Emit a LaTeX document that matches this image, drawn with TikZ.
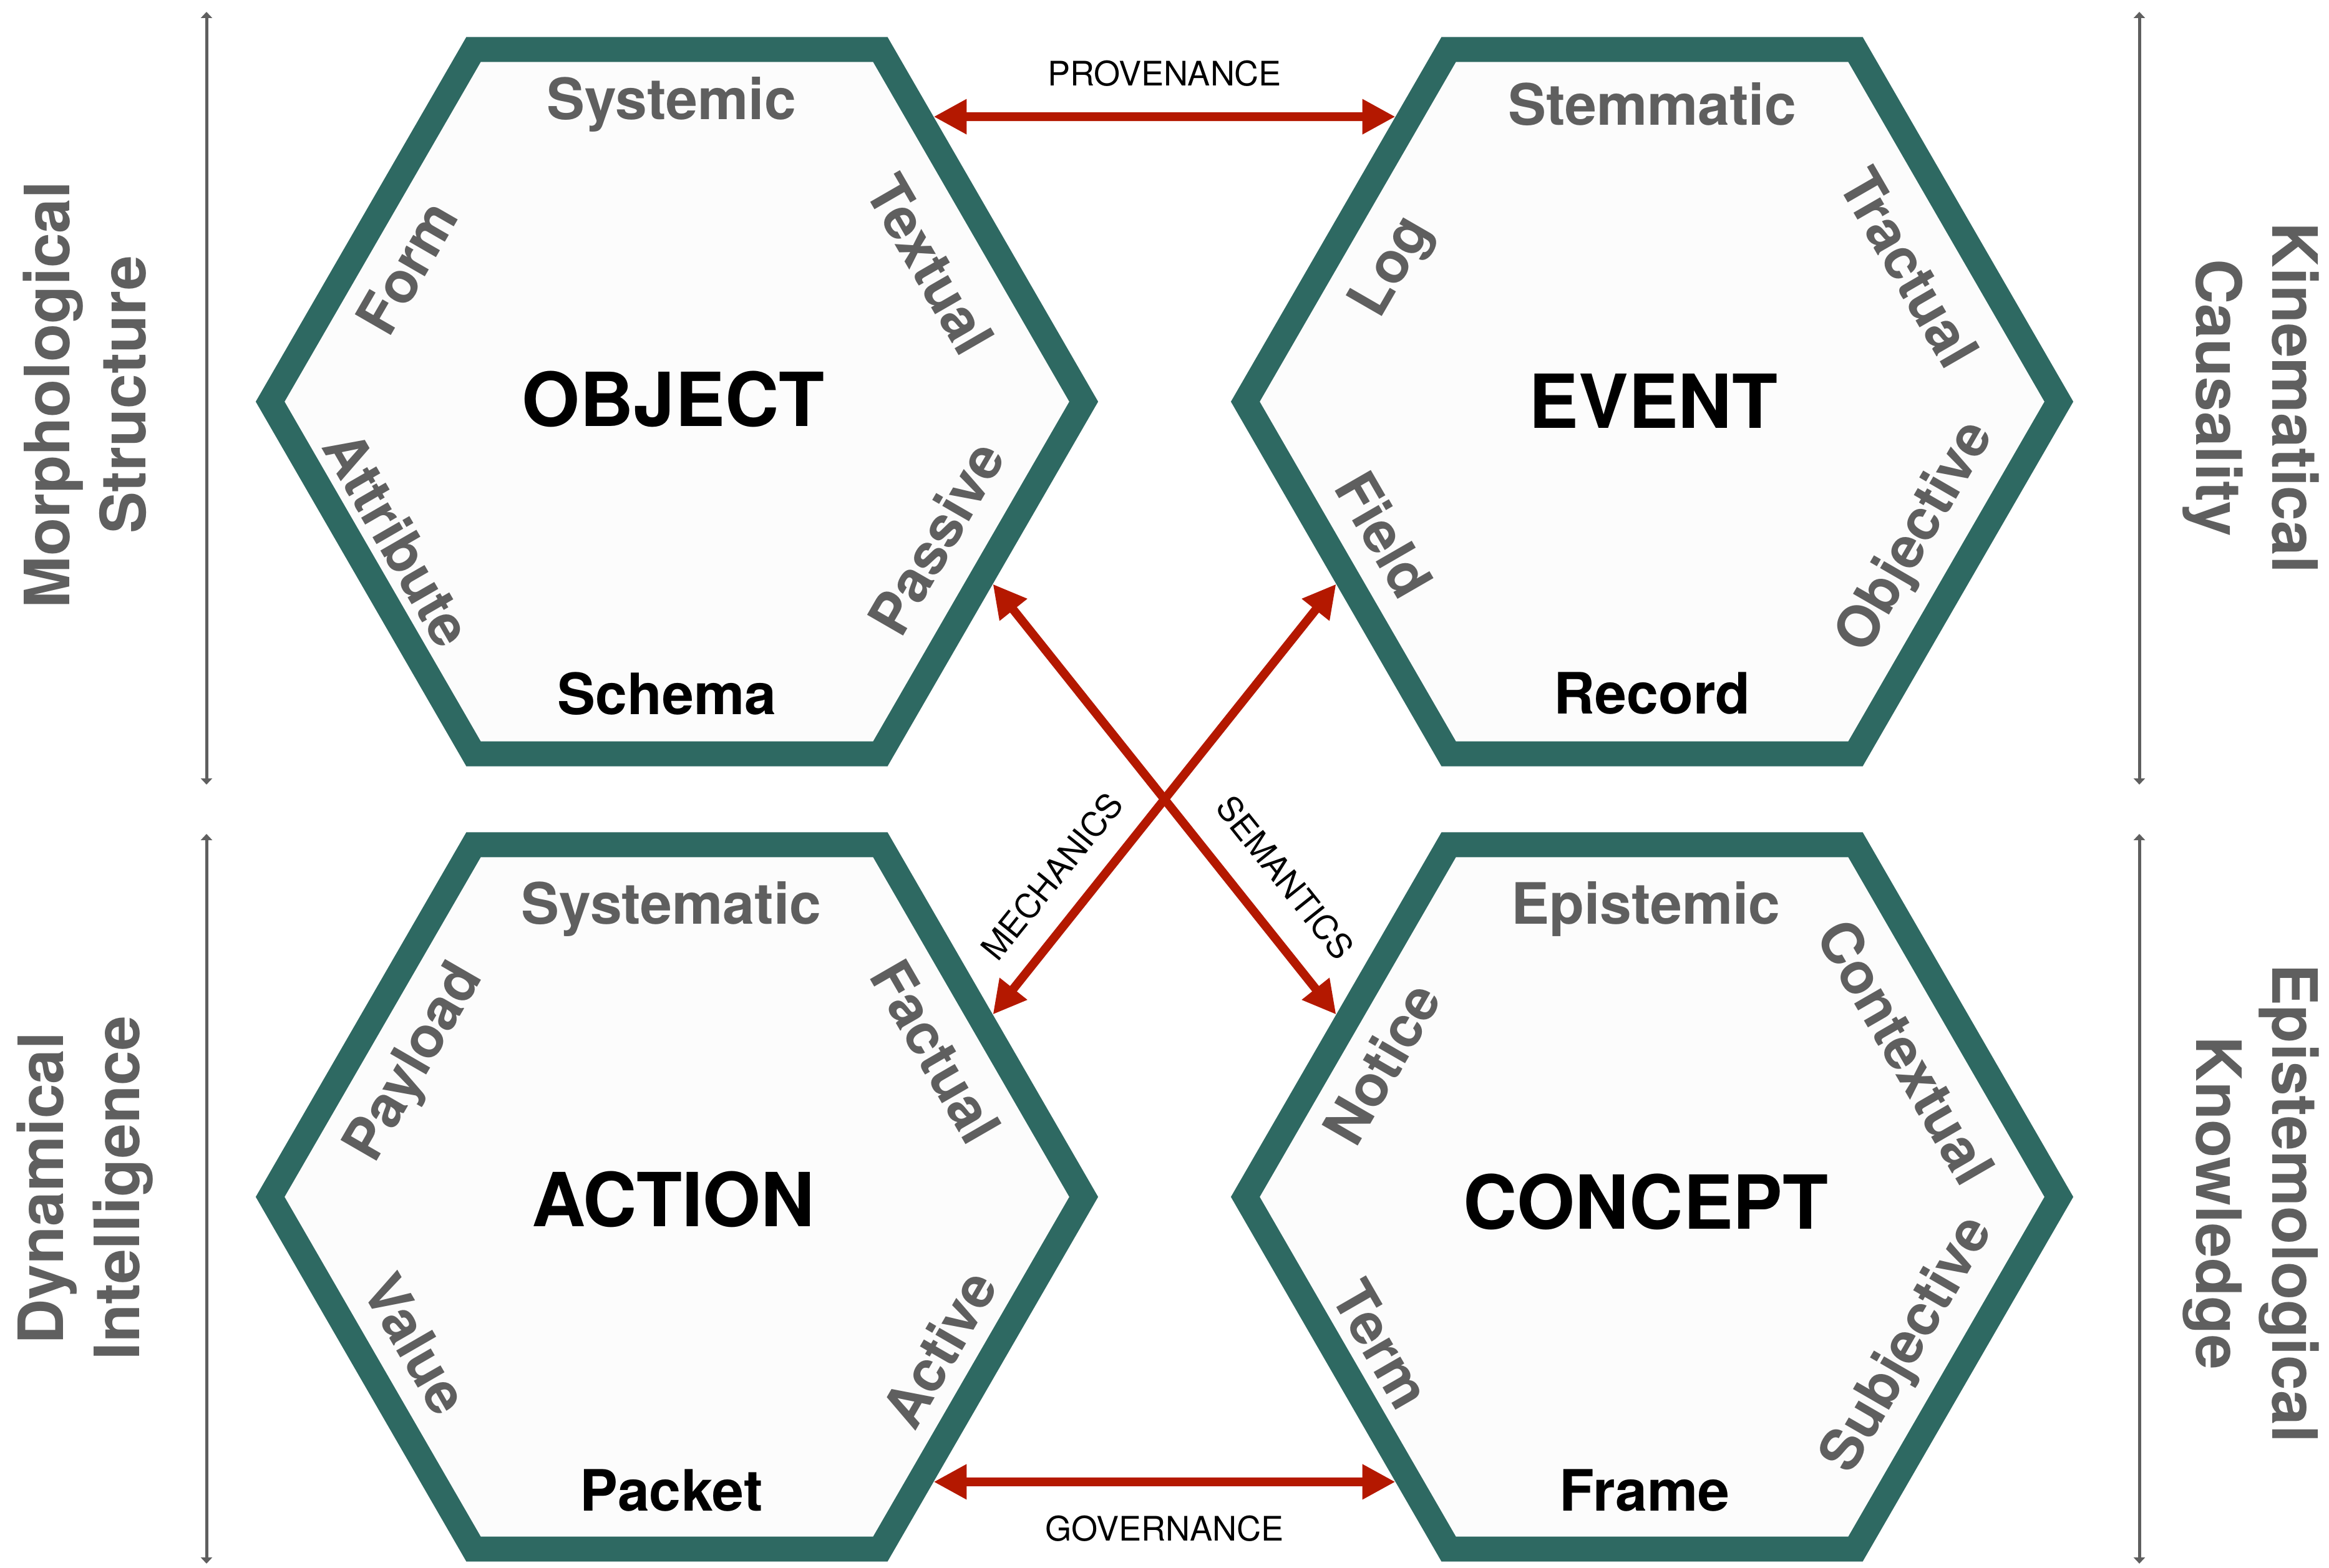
\documentclass[tikz,border=0pt]{standalone}
\usepackage{fontspec}
\setmainfont{TeX Gyre Heros}
\usepackage{tikz}
\usetikzlibrary{shapes.geometric,arrows.meta}
\definecolor{hexgreen}{RGB}{46,105,98}
\definecolor{hexfill}{RGB}{252,252,252}
\definecolor{linkred}{RGB}{180,24,0}
\definecolor{facetgray}{RGB}{95,95,95}
\tikzset{>={Triangle[length=5.3mm,width=5.3mm]}}

\begin{document}
\begin{tikzpicture}[
  hexcell/.style={regular polygon,regular polygon sides=6,minimum size=13.04cm,
    draw=hexgreen,line width=4mm,fill=hexfill,inner sep=0pt},
  core/.style={font=\fontsize{34}{40}\selectfont\bfseries},
  facet/.style={text=facetgray,font=\fontsize{26}{30}\selectfont\bfseries},
  basis/.style={font=\fontsize{26}{30}\selectfont\bfseries},
  link/.style={<->,draw=linkred,line width=1.4mm},
  linklabel/.style={font=\fontsize{15.4}{18}\selectfont},
  axis/.style={{Triangle[length=1mm,width=1.8mm]}-{Triangle[length=1mm,width=1.8mm]},
    draw=facetgray,line width=0.5mm},
  axislabel/.style={text=facetgray,align=center,
    font=\fontsize{28.5}{34.7}\selectfont\bfseries}]
\useasboundingbox (0,0) rectangle (37.33,25.13);

\node[hexcell] (obj) at (10.85,18.69) {};
\node[hexcell] (evt) at (26.48,18.69) {};
\node[hexcell] (act) at (10.85,5.94) {};
\node[hexcell] (con) at (26.48,5.94) {};

\node[core] (objC) at (10.79,18.73) {OBJECT};
\node[facet] (objT) at (10.76,23.46) {Systemic};
\node[facet,rotate=-60] (objUR) at (14.91,20.89) {Textual};
\node[facet,rotate=60] (objLR) at (15.00,16.51) {Passive};
\node[basis] (objB) at (10.69,14.01) {Schema};
\node[facet,rotate=-60] (objLL) at (6.38,16.49) {Attribute};
\node[facet,rotate=60] (objUL) at (6.52,20.84) {Form};

\node[core] (evtC) at (26.50,18.70) {EVENT};
\node[facet] (evtT) at (26.48,23.46) {Stemmatic};
\node[facet,rotate=-60] (evtUR) at (30.60,20.84) {Tractual};
\node[facet,rotate=60] (evtLR) at (30.72,16.51) {Objective};
\node[basis] (evtB) at (26.48,14.01) {Record};
\node[facet,rotate=-60] (evtLL) at (22.19,16.56) {Field};
\node[facet,rotate=60] (evtUL) at (22.33,20.84) {Log};

\node[core] (actC) at (10.79,5.90) {ACTION};
\node[facet] (actT) at (10.76,10.56) {Systematic};
\node[facet,rotate=-60] (actUR) at (15.00,8.27) {Factual};
\node[facet,rotate=60] (actLR) at (15.05,3.51) {Active};
\node[basis] (actB) at (10.76,1.23) {Packet};
\node[facet,rotate=-60] (actLL) at (6.67,3.58) {Value};
\node[facet,rotate=60] (actUL) at (6.67,8.08) {Payload};

\node[core] (conC) at (26.38,5.86) {CONCEPT};
\node[facet] (conT) at (26.38,10.56) {Epistemic};
\node[facet,rotate=-60] (conUR) at (30.55,8.27) {Contextual};
\node[facet,rotate=60] (conLR) at (30.60,3.56) {Subjective};
\node[basis] (conB) at (26.36,1.23) {Frame};
\node[facet,rotate=-60] (conLL) at (22.14,3.58) {Term};
\node[facet,rotate=60] (conUL) at (22.14,8.08) {Notice};

\draw[link] (obj.48) -- node[linklabel,above=3mm] (prov) {PROVENANCE} (evt.132);
\draw[link] (act.-48) -- node[linklabel,below=3.5mm] (gov) {GOVERNANCE} (con.228);
\draw[link] (obj.-30) -- (con.150);
\draw[link] (evt.210) -- (act.30);
\node[linklabel,rotate=51] (mech) at (16.86,11.08) {MECHANICS};
\node[linklabel,rotate=-51.4] (sem) at (20.60,11.06) {SEMANTICS};

\coordinate (lefttop) at (3.31,24.94);
\coordinate (leftmid) at (3.31,12.55);
\coordinate (leftlow) at (3.31,11.76);
\coordinate (leftbot) at (3.31,0.06);
\coordinate (righttop) at (34.29,24.94);
\coordinate (rightmid) at (34.29,12.55);
\coordinate (rightlow) at (34.29,11.76);
\coordinate (rightbot) at (34.29,0.06);
\draw[axis] (lefttop) -- (leftmid);
\draw[axis] (leftlow) -- (leftbot);
\draw[axis] (righttop) -- (rightmid);
\draw[axis] (rightlow) -- (rightbot);

\node[axislabel,rotate=90] (morph) at (1.36,18.80) {Morphological\\Structure};
\node[axislabel,rotate=90] (dyn) at (1.36,6.08) {Dynamical\\Intelligence};
\node[axislabel,rotate=-90] (kin) at (36.08,18.75) {Kinematical\\Causality};
\node[axislabel,rotate=-90] (epi) at (36.08,5.84) {Epistemological\\Knowledge};
\end{tikzpicture}
\end{document}
